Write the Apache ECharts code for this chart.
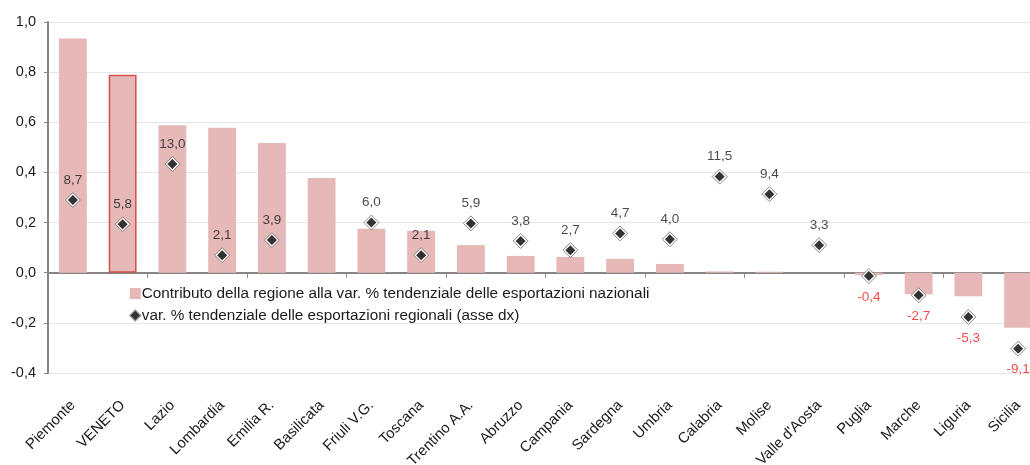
<!DOCTYPE html>
<html><head><meta charset="utf-8">
<script src="https://cdn.jsdelivr.net/npm/echarts@6/dist/echarts.min.js"></script>
<style>html,body{margin:0;padding:0;background:#fff;overflow:hidden;width:1030px;height:465px}
#wrap{position:relative;width:1030px;height:465px;overflow:hidden}
#c{position:absolute;left:0;top:0;width:1043px;height:465px}</style>
</head><body><div id="wrap"><div id="c"></div></div>
<script>
var categories = ["Piemonte","VENETO","Lazio","Lombardia","Emilia R.","Basilicata","Friuli V.G.","Toscana","Trentino A.A.","Abruzzo","Campania","Sardegna","Umbria","Calabria","Molise","Valle d'Aosta","Puglia","Marche","Liguria","Sicilia"];
var contributo = [0.934,0.79,0.588,0.578,0.517,0.378,0.175,0.167,0.11,0.067,0.063,0.055,0.035,0.005,0.004,0.0,-0.01,-0.086,-0.094,-0.22];
var varRegionale = [8.7,5.8,13.0,2.1,3.9,null,6.0,2.1,5.9,3.8,2.7,4.7,4.0,11.5,9.4,3.3,-0.4,-2.7,-5.3,-9.1];
var leftTicks = {min:-0.4, max:1.0, interval:0.2};
var rightTicks = {min:-12, max:30, interval:6};
var nameBar = "Contributo della regione alla var. % tendenziale delle esportazioni nazionali";
var nameDot = "var. % tendenziale delle esportazioni regionali (asse dx)";

var FONT = "Liberation Sans";
function fmt(v){ return v.toFixed(1).replace('.', ','); }

var barData = contributo.map(function(v,i){
  var o = {value: v};
  if (categories[i] === "VENETO") o.itemStyle = {borderColor:'#d0504d', borderWidth:1.5};
  return o;
});
var dotData = varRegionale.map(function(v){
  if (v === null) return {value: null};
  var neg = v < 0;
  return {value: v, label: {position: neg ? 'bottom' : 'top', distance: neg ? 9 : 8, color: neg ? '#ff1a1a' : '#1a1a1a'}};
});

var chart = echarts.init(document.getElementById('c'), null, {renderer:'canvas'});
chart.setOption({
  animation:false,
  textStyle:{fontFamily:FONT},
  grid:{left:48, right:0, top:22, bottom:92, containLabel:false, outerBoundsMode:'none'},
  legend:{
    orient:'vertical', left:124, top:281, itemGap:7, itemWidth:11, itemHeight:11,
    textStyle:{fontFamily:FONT, fontSize:15.3, color:'#1a1a1a', padding:[0,0,0,-4]},
    data:[{name:nameBar, icon:'rect'}, {name:nameDot, icon:'diamond', itemStyle:{color:'#000', borderColor:'#999', borderWidth:1.5}}]
  },
  xAxis:[{
    type:'category', data:categories, position:'bottom',
    axisLine:{onZero:true, lineStyle:{color:'#868686', width:2}},
    axisTick:{show:true, length:5, lineStyle:{color:'#868686', width:1}},
    axisLabel:{show:false}, splitLine:{show:false}
  },{
    type:'category', data:categories, position:'bottom',
    axisLine:{show:false, onZero:false}, axisTick:{show:false},
    axisLabel:{show:true, rotate:45, interval:0, margin:30, fontFamily:FONT, fontSize:14.8, color:'#1a1a1a'},
    splitLine:{show:false}
  }],
  yAxis:[{
    type:'value', min:leftTicks.min, max:leftTicks.max, interval:leftTicks.interval,
    axisLine:{show:true, onZero:false, lineStyle:{color:'#868686', width:2}},
    axisTick:{show:true, length:4, lineStyle:{color:'#868686'}},
    axisLabel:{formatter:function(v){return fmt(v);}, fontFamily:FONT, fontSize:14.5, color:'#1a1a1a', margin:12},
    splitLine:{show:true, lineStyle:{color:'#e6e6e6', width:1}}
  },{
    type:'value', min:rightTicks.min, max:rightTicks.max, interval:rightTicks.interval, show:false,
    splitLine:{show:false}
  }],
  series:[{
    name:nameBar, type:'bar', xAxisIndex:0, yAxisIndex:0, data:barData, barWidth:'56%',
    itemStyle:{color:'#e6b8b7'}, z:2
  },{
    name:'_back', type:'scatter', xAxisIndex:0, yAxisIndex:1, data:varRegionale,
    symbol:'diamond', symbolSize:15, itemStyle:{color:'#fff', borderColor:'#6e6e6e', borderWidth:1}, z:3,
    silent:true
  },{
    name:nameDot, type:'scatter', xAxisIndex:0, yAxisIndex:1, data:dotData,
    symbol:'diamond', symbolSize:10, itemStyle:{color:'#000'}, z:4,
    label:{show:true, fontFamily:FONT, fontSize:13.5, formatter:function(p){return fmt(p.value);}}
  }]
});
</script></body></html>
